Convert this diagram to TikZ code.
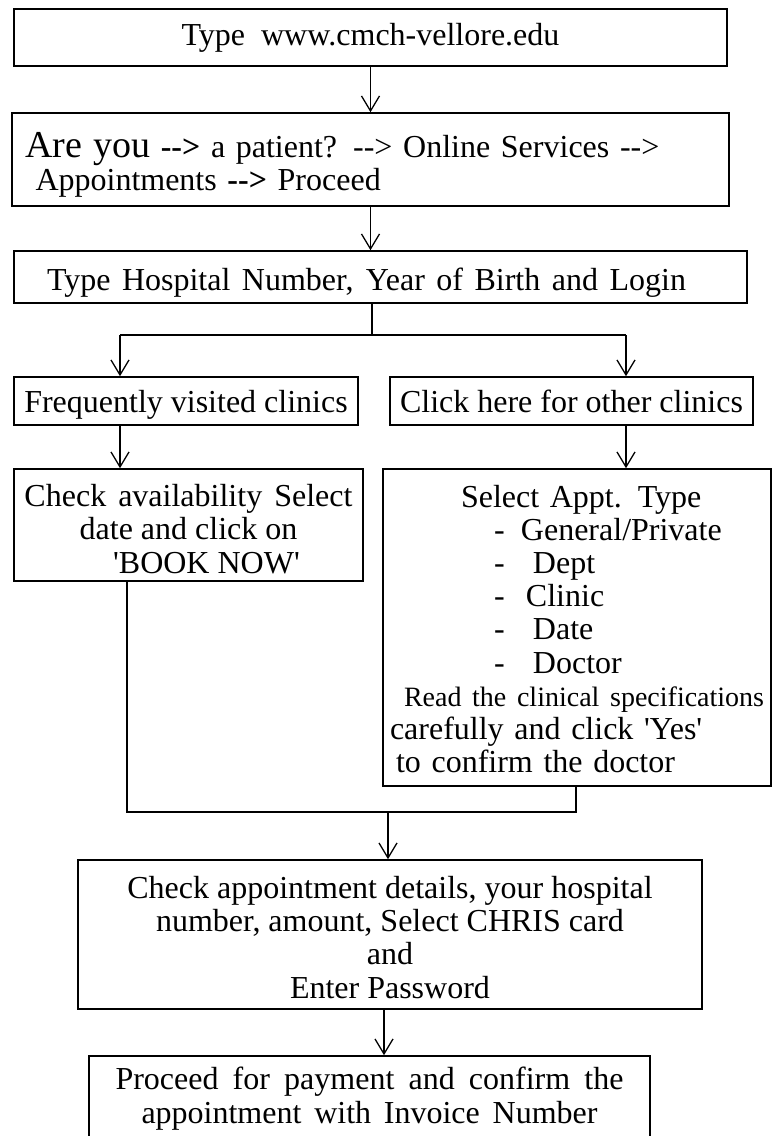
\documentclass[tikz,border=0pt]{standalone}
\usepackage{fontspec}
\setmainfont{Liberation Serif}[Ligatures=TeXOff]
\usetikzlibrary{arrows.meta}

\begin{document}
\begin{tikzpicture}[x=0.5pt,y=-0.5pt]
			\tikzstyle{every node}+=[inner sep=0pt, font=\fontsize{16}{16.6}\selectfont]
			\tikzstyle{box}=[draw=black, line width=0.8pt, align=center]
			\tikzstyle{link}=[black, line width=0.65pt]
			\tikzstyle{arr}=[link, -{Straight Barb[length=7.5pt,width=9pt]}]
			\useasboundingbox (0,0) rectangle (774,1136);
			\node [box, minimum width=356.5pt, minimum height=28.5pt] (url) at (370.5,37.5) {Type~~www.cmch-vellore.edu};
			\node [box, minimum width=358.5pt, minimum height=46.5pt, align=left, text width=345pt, text height=13.5pt, text depth=16pt] (patient) at (370.5,159.5) {\makebox[326.5pt][s]{{\fontsize{19}{19}\selectfont Are you} \textbf{-{}->} a patient? -{}-> Online Services -{}->}\\\hspace*{5pt}Appointments \textbf{-{}->} Proceed};
			\node [box, minimum width=366.5pt, minimum height=26pt, text height=15pt, text depth=2pt] (login) at (380.5,277) {\makebox[333.5pt][l]{\makebox[319.5pt][s]{Type Hospital Number, Year of Birth and Login}}};
			\node [box, minimum width=172pt, minimum height=24pt, text height=13pt, text depth=2pt] (freq) at (186,401) {Frequently visited clinics};
			\node [box, minimum width=181.5pt, minimum height=24pt, text height=13pt, text depth=2pt] (other) at (571.5,401) {Click here for other clinics};
			\node [box, minimum width=174.5pt, minimum height=56pt, text height=48pt, text depth=0pt] (check) at (188.5,525) {\makebox[164pt][s]{Check availability Select}\\date and click on\\\hspace*{18pt}'BOOK NOW'};
			\node [box, minimum width=194pt, minimum height=158.5pt, align=left, text width=187pt, text height=11.6pt, text depth=132.1pt] (select) at (577,627.5) {\hspace*{35.5pt}Select Appt. Type\\
				\hspace*{52pt}\makebox[13.5pt][l]{-}General/Private\\
				\hspace*{52pt}\makebox[19.5pt][l]{-}Dept\\
				\hspace*{52pt}\makebox[16pt][l]{-}Clinic\\
				\hspace*{52pt}\makebox[19.5pt][l]{-}Date\\
				\hspace*{52pt}\makebox[19.5pt][l]{-}Doctor\\
				\hspace*{7pt}\mbox{\fontsize{14}{16.6}\selectfont Read the clinical specifications}\\
				\makebox[163pt][s]{carefully and click 'Yes'}\\
				\hspace*{3pt}to confirm the doctor};
			\node [box, minimum width=312pt, minimum height=74.5pt, text height=63.5pt, text depth=0pt] (details) at (390,934.5) {Check appointment details, your hospital\\number, amount, Select CHRIS card\\and\\Enter Password};
			\node [box, minimum width=280.5pt, minimum height=45pt, text height=25.5pt, text depth=3.5pt] (pay) at (369.5,1101) {\makebox[254pt][s]{Proceed for payment and confirm the}\\\makebox[228pt][s]{appointment with Invoice Number}};
			\coordinate (split) at (372,335);
			\coordinate (sl) at (120,335);
			\coordinate (sr) at (626,335);
			\coordinate (jl) at (127,812);
			\coordinate (jr) at (576,812);
			\coordinate (join) at (388,812);
			\draw [arr] (url) -- (patient);
			\draw [arr] (patient.south) -- (patient.south |- login.north);
			\draw [link] (login.south -| split) -- (split);
			\draw [link] (sl) -- (sr);
			\draw [arr] (sl) -- (sl |- freq.north);
			\draw [arr] (sr) -- (sr |- other.north);
			\draw [arr] (freq.south -| sl) -- (sl |- check.north);
			\draw [arr] (other.south -| sr) -- (sr |- select.north);
			\draw [link] (check.south -| jl) -- (jl) -- (jr) -- (select.south -| jr);
			\draw [arr] (join) -- (join |- details.north);
			\draw [arr] ([xshift=-3pt]details.south) -- ([xshift=-3pt]details.south |- pay.north);
		\end{tikzpicture}
\end{document}
